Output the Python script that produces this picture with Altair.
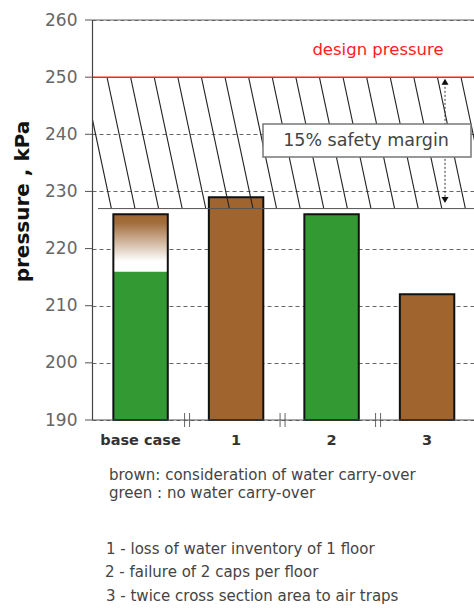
import altair as alt
import pandas as pd

# ---------------- data ----------------
categories = ["base case", "1", "2", "3"]
no_carry_over = [216, None, 226, None]      # green
with_carry_over = [226, 229, None, 212]     # brown
axis_min = 190
axis_max = 260
tick_values = [190, 200, 210, 220, 230, 240, 250, 260]
design_pressure = 250
safety_limit = 227
design_label = "design pressure"
margin_label = "15% safety margin"
y_title = "pressure , kPa"
notes = [
    "brown: consideration of water carry-over",
    "green : no water carry-over",
    "1 - loss of water inventory of 1 floor",
    "2 - failure of 2 caps per floor",
    "3 - twice cross section area to air traps",
]

GREEN = "#339933"
BROWN = "#a0652e"
W, H = 382, 400
FONT = "DejaVu Sans"

# ---------------- tables built from the arrays ----------------
solid_rows, grad_rows, outline_rows = [], [], []
for c, g, b in zip(categories, no_carry_over, with_carry_over):
    if g is not None:
        solid_rows.append({"category": c, "base": axis_min, "top": g, "kind": "green"})
        if b is not None:
            grad_rows.append({"category": c, "bottom": g, "top": b})
    else:
        solid_rows.append({"category": c, "base": axis_min, "top": b, "kind": "brown"})
    outline_rows.append({"category": c, "base": axis_min,
                         "total": max(v for v in (g, b) if v is not None)})
solid_df = pd.DataFrame(solid_rows)
grad_df = pd.DataFrame(grad_rows)
outline_df = pd.DataFrame(outline_rows)
sep_df = pd.DataFrame({"category": categories[:-1]})
ticks_df = pd.DataFrame({"t": tick_values})
one = pd.DataFrame({"a": [0]})

yscale = alt.Scale(domain=[axis_min, axis_max], nice=False, zero=False)
xscale = alt.Scale(domain=categories, paddingInner=0.43, paddingOuter=0.215, align=0.52)

yaxis = alt.Axis(
    title=y_title, values=tick_values, grid=True, gridDash=[4, 3], gridColor="#666",
    gridWidth=1, ticks=False, domain=False,
    labelFont=FONT, labelFontSize=17, labelColor="#666", labelPadding=15,
    titleFont=FONT, titleFontSize=20, titleFontWeight="bold", titleColor="#111",
    titleAngle=270, titleX=-70, titleY=181, titleAlign="center", titleBaseline="middle",
)


def xcat():
    return alt.X("category:N", sort=categories, scale=xscale, axis=None)


solid = alt.Chart(solid_df).mark_bar().encode(
    x=xcat(),
    y=alt.Y("top:Q", scale=yscale, axis=yaxis, title=y_title),
    y2="base:Q",
    color=alt.Color("kind:N", scale=alt.Scale(domain=["green", "brown"], range=[GREEN, BROWN]), legend=None),
)

gradient = alt.Chart(grad_df).mark_bar(
    color=alt.Gradient(
        gradient="linear", x1=0, x2=0, y1=1, y2=0,
        stops=[
            alt.GradientStop(color="#ffffff", offset=0),
            alt.GradientStop(color="#ffffff", offset=0.18),
            alt.GradientStop(color="#a26d3c", offset=0.85),
            alt.GradientStop(color=BROWN, offset=1),
        ],
    )
).encode(x=xcat(), y=alt.Y("top:Q", title=y_title), y2="bottom:Q")

outline = alt.Chart(outline_df).mark_bar(fillOpacity=0, stroke="#111", strokeWidth=2).encode(
    x=xcat(), y=alt.Y("total:Q", title=y_title), y2="base:Q"
)

seps = alt.layer(*[
    alt.Chart(sep_df).mark_rule(xOffset=off, stroke="#666", strokeWidth=1).encode(
        x=xcat(), y=alt.value(H - 7), y2=alt.value(H + 7)
    )
    for off in (44, 49)
])

xlabels = alt.Chart(outline_df).mark_text(
    font=FONT, fontSize=14.5, fontWeight="bold", color="#333", align="center", baseline="middle"
).encode(x=xcat(), y=alt.value(H + 21), text="category:N")

bars = alt.layer(solid, gradient, outline, seps, xlabels)

# axis lines and ticks
y_domain = alt.Chart(one).mark_rule(stroke="#444", strokeWidth=1.2).encode(
    x=alt.value(0.5), y=alt.YDatum(axis_max, title=y_title), y2=alt.Y2Datum(axis_min)
)
x_domain = alt.Chart(one).mark_rule(stroke="#555", strokeWidth=1.2).encode(
    x=alt.value(0.5), x2=alt.value(W), y=alt.YDatum(axis_min, title=y_title)
)
y_ticks = alt.Chart(ticks_df).mark_rule(stroke="#555", strokeWidth=1).encode(
    x=alt.value(-7), x2=alt.value(0.5), y=alt.Y("t:Q", title=y_title)
)

# hatch lines of the safety-margin band, generated as a regular pattern
hatch = (
    alt.Chart(alt.sequence(-1, 17, 1, as_="i"))
    .transform_calculate(hx="15 + 23.6 * datum.i", hx2="15 + 23.6 * datum.i + 28")
    .mark_rule(stroke="#222", strokeWidth=1.1, clip=True)
    .encode(
        x=alt.X("hx:Q", scale=alt.Scale(domain=[0, W]), axis=None),
        x2="hx2:Q",
        y=alt.YDatum(design_pressure, title=y_title),
        y2=alt.Y2Datum(safety_limit),
    )
)

limit_line = alt.Chart(one).mark_rule(stroke="#555", strokeWidth=1).encode(
    x=alt.value(6), x2=alt.value(W), y=alt.YDatum(safety_limit, title=y_title)
)
top_line = alt.Chart(one).mark_rule(stroke="#666", strokeWidth=1).encode(
    x=alt.value(0.5), x2=alt.value(W), y=alt.YDatum(axis_max, title=y_title)
)
red_line = alt.Chart(one).mark_rule(stroke="#ff2020", strokeWidth=1.5).encode(
    x=alt.value(0.5), x2=alt.value(W), y=alt.YDatum(design_pressure, title=y_title)
)
arrow_line = alt.Chart(one).mark_rule(stroke="#333", strokeWidth=1, strokeDash=[2, 2]).encode(
    x=alt.value(353), y=alt.YDatum(design_pressure - 1, title=y_title),
    y2=alt.Y2Datum(safety_limit + 1),
)
arrow_up = alt.Chart(one).mark_point(shape="triangle-up", filled=True, color="#111", size=50, opacity=1).encode(
    x=alt.value(353), y=alt.YDatum(design_pressure - 0.8, title=y_title)
)
arrow_dn = alt.Chart(one).mark_point(shape="triangle-down", filled=True, color="#111", size=50, opacity=1).encode(
    x=alt.value(353), y=alt.YDatum(safety_limit + 1.5, title=y_title)
)
box = alt.Chart(one).mark_rect(fill="white", stroke="#777", strokeWidth=1.5).encode(
    x=alt.value(171), x2=alt.value(379), y=alt.value(104), y2=alt.value(137)
)
box_text = alt.Chart(one).mark_text(
    text=margin_label, font=FONT, fontSize=17.5, color="#444", align="center", baseline="middle"
).encode(x=alt.value(274), y=alt.value(121))
design_text = alt.Chart(one).mark_text(
    text=design_label, font=FONT, fontSize=16.5, color="#ff2020", align="center", baseline="middle"
).encode(x=alt.value(286), y=alt.value(30))

note_y = [455, 473, 529, 552, 576]
note_x = [17, 17, 14, 13, 14]
note_layers = [
    alt.Chart(one).mark_text(
        text=t, font=FONT, fontSize=15, color="#444", align="left", baseline="middle"
    ).encode(x=alt.value(nx), y=alt.value(ny))
    for t, nx, ny in zip(notes, note_x, note_y)
]

chart = (
    alt.layer(
        bars, hatch, limit_line, top_line, red_line, arrow_line, arrow_up, arrow_dn,
        box, box_text, design_text, y_domain, x_domain, y_ticks, *note_layers,
    )
    .resolve_scale(x="independent")
    .properties(
        width=W, height=H,
        autosize=alt.AutoSizeParams(type="none"),
        padding={"left": 92, "top": 20, "right": 0, "bottom": 188},
        background="white",
    )
    .configure_view(strokeWidth=0)
)

chart.save("out.html", embed_options={"renderer": "svg", "actions": False})
